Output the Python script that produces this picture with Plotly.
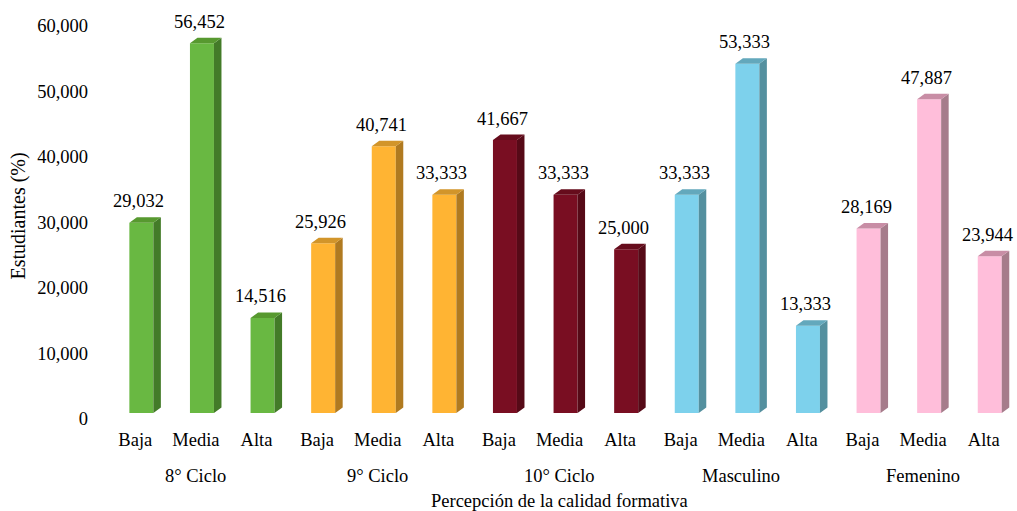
import plotly.graph_objects as go

# Data: percentage of students by perceived training quality
groups = ["8° Ciclo", "9° Ciclo", "10° Ciclo", "Masculino", "Femenino"]
levels = ["Baja", "Media", "Alta"]
ciclo8 = [29.032, 56.452, 14.516]
ciclo9 = [25.926, 40.741, 33.333]
ciclo10 = [41.667, 33.333, 25.000]
masculino = [33.333, 53.333, 13.333]
femenino = [28.169, 47.887, 23.944]

y_tickvals = [0, 10, 20, 30, 40, 50, 60]
y_ticktext = ["0", "10,000", "20,000", "30,000", "40,000", "50,000", "60,000"]

# front / side / top face colours per group
front_colors = ["#69B842", "#FFB433", "#790E22", "#7DD1EC", "#FFBEDA"]
side_colors = ["#437B28", "#B07A20", "#560A17", "#54909F", "#A67C8B"]
top_colors = ["#57992F", "#D2952A", "#660C1C", "#63A8BC", "#C88DA5"]

series = [ciclo8, ciclo9, ciclo10, masculino, femenino]

FONT = "Liberation Serif, Times New Roman, serif"
FS = 18.5
BAR_W = 0.396      # front face width (category units)
BAR_SHIFT = 0.10   # front face centre relative to category tick
DX = 0.124         # depth offset in x (category units)
DY = 0.84          # depth offset in y (data units)


def fmt(v):
    return f"{v:.3f}".replace(".", ",")


fig = go.Figure()
annotations = []

for g, (vals, fc, sc, tc) in enumerate(zip(series, front_colors, side_colors, top_colors)):
    xs = [g * 3 + k for k in range(3)]
    fig.add_trace(go.Bar(
        x=xs, y=vals, width=BAR_W, offset=BAR_SHIFT - BAR_W / 2,
        marker=dict(color=fc, line=dict(width=0)),
        hoverinfo="skip", showlegend=False,
    ))
    side_x, side_y, top_x, top_y = [], [], [], []
    for x, v in zip(xs, vals):
        xl = x + BAR_SHIFT - BAR_W / 2
        xr = xl + BAR_W
        side_x += [xr, xr + DX, xr + DX, xr, xr, None]
        side_y += [0, DY, v + DY, v, 0, None]
        top_x += [xl, xr, xr + DX, xl + DX, xl, None]
        top_y += [v, v, v + DY, v + DY, v, None]
        annotations.append(dict(
            x=x + BAR_SHIFT - 0.04, y=v + DY, xref="x", yref="y",
            text=fmt(v), showarrow=False, yanchor="bottom", yshift=4,
            font=dict(family=FONT, size=FS, color="#000"),
        ))
    fig.add_trace(go.Scatter(
        x=side_x, y=side_y, mode="lines", fill="toself", fillcolor=sc,
        line=dict(width=0, color=sc), hoverinfo="skip", showlegend=False,
    ))
    fig.add_trace(go.Scatter(
        x=top_x, y=top_y, mode="lines", fill="toself", fillcolor=tc,
        line=dict(width=0, color=tc), hoverinfo="skip", showlegend=False,
    ))
    annotations.append(dict(
        x=g * 3 + 1, y=0, xref="x", yref="paper", text=groups[g],
        showarrow=False, yanchor="middle", yshift=-63,
        font=dict(family=FONT, size=FS, color="#000"),
    ))

annotations.append(dict(
    x=0.5, y=0, xref="paper", yref="paper",
    text="Percepción de la calidad formativa", showarrow=False,
    yanchor="middle", yshift=-88, font=dict(family=FONT, size=FS, color="#000"),
))
annotations.append(dict(
    x=0, y=0.5, xref="paper", yref="paper", text="Estudiantes (%)",
    showarrow=False, textangle=-90, xanchor="center", xshift=-87,
    font=dict(family=FONT, size=20, color="#000"),
))

n = len(groups) * len(levels)
fig.update_layout(
    width=1017, height=511,
    margin=dict(l=105, r=3, t=20, b=98),
    paper_bgcolor="white", plot_bgcolor="white",
    barmode="overlay",
    annotations=annotations,
    font=dict(family=FONT, size=FS, color="#000"),
    xaxis=dict(
        range=[-0.5, n - 0.5],
        tickvals=list(range(n)), ticktext=levels * len(groups),
        showgrid=False, zeroline=False, showline=False, ticks="",
        ticklabelstandoff=13,
        tickfont=dict(family=FONT, size=FS, color="#000"),
    ),
    yaxis=dict(
        range=[0, 60], tickvals=y_tickvals, ticktext=y_ticktext,
        showgrid=False, zeroline=False, showline=False, ticks="",
        ticklabelshift=6, ticklabelstandoff=16,
        tickfont=dict(family=FONT, size=FS, color="#000"),
    ),
)

fig.write_html("out.html")
